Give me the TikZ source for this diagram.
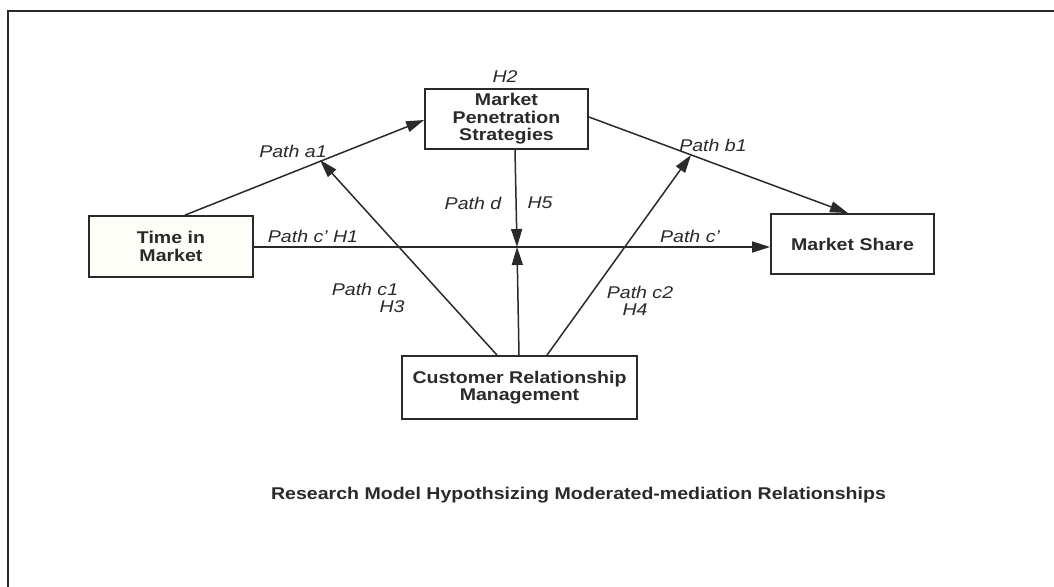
\documentclass[tikz,border=0pt]{standalone}
\usepackage{fontspec}
\setmainfont{Liberation Sans}[FakeStretch=1.15]
\usetikzlibrary{arrows.meta,calc}
\definecolor{ink}{HTML}{2A2A2A}
\definecolor{cream}{HTML}{FEFEF9}
\begin{document}
\begin{tikzpicture}[x=1pt,y=-1pt,
  box/.style={draw=ink,line width=1.8pt,align=center,font=\fontsize{17}{17.5}\selectfont\bfseries,text=ink,inner sep=0pt},
  conn/.style={draw=ink,line width=1.5pt,-{Triangle[length=18pt,width=11pt]}},
  lbl/.style={font=\fontsize{17}{17.5}\selectfont\itshape,text=ink,inner sep=0pt,align=center}]
\useasboundingbox (0,0) rectangle (1054,586);
\fill[white] (0,0) rectangle (1054,586);
\draw[ink,line width=2pt] (8,600) -- (8,11) -- (1070,11);

\node[box,minimum width=163pt,minimum height=60pt] (mps) at (506.5,119) {Market\\Penetration\\Strategies};
\node[box,fill=cream,minimum width=164pt,minimum height=61pt] (tim) at (171,246.5) {Time in\\Market};
\node[box,minimum width=163pt,minimum height=60pt] (ms) at (852.5,244) {Market Share};
\node[box,minimum width=235pt,minimum height=63pt] (crm) at (519.5,387.5) {Customer Relationship\\Management};

\coordinate (j) at (517,247);
\coordinate (pa) at (320,160);
\coordinate (pb) at (691,155);

% Path a1
\draw[conn] (tim.north west -| 185,0) -- (mps.west |- 0,120);
% Path b1
\draw[conn] (mps.east |- 0,117) -- (ms.north west -| 848,0);
% Path c'
\draw[conn] (tim.east |- j) -- (ms.west |- j);
% Path d
\draw[conn] (mps.south -| 515,0) -- (j);
% CRM to junction
\draw[conn] (crm.north -| 519,0) -- (j);
% Path c1
\draw[conn] (crm.north -| 497,0) -- (pa);
% Path c2
\draw[conn] (crm.north -| 547,0) -- (pb);

\node[lbl] (lh2) at (505,77) {H2};
\node[lbl] (la1) at (293,151) {Path a1};
\node[lbl] (ld) at (473,203) {Path d};
\node[lbl] (lh5) at (540,203) {H5};
\node[lbl] (lch1) at (313,236) {Path c' H1};
\node[lbl] (lc1) at (365,289) {Path c1};
\node[lbl] (lh3) at (392,307) {H3};
\node[lbl] (lb1) at (713,145) {Path b1};
\node[lbl] (lc) at (690,236) {Path c'};
\node[lbl] (lc2) at (640,292) {Path c2};
\node[lbl] (lh4) at (635,310) {H4};

\node[font=\fontsize{17}{18}\selectfont\bfseries,text=ink,inner sep=0pt] (cap) at (578.5,495) {Research Model Hypothsizing Moderated-mediation Relationships};
\end{tikzpicture}
\end{document}
